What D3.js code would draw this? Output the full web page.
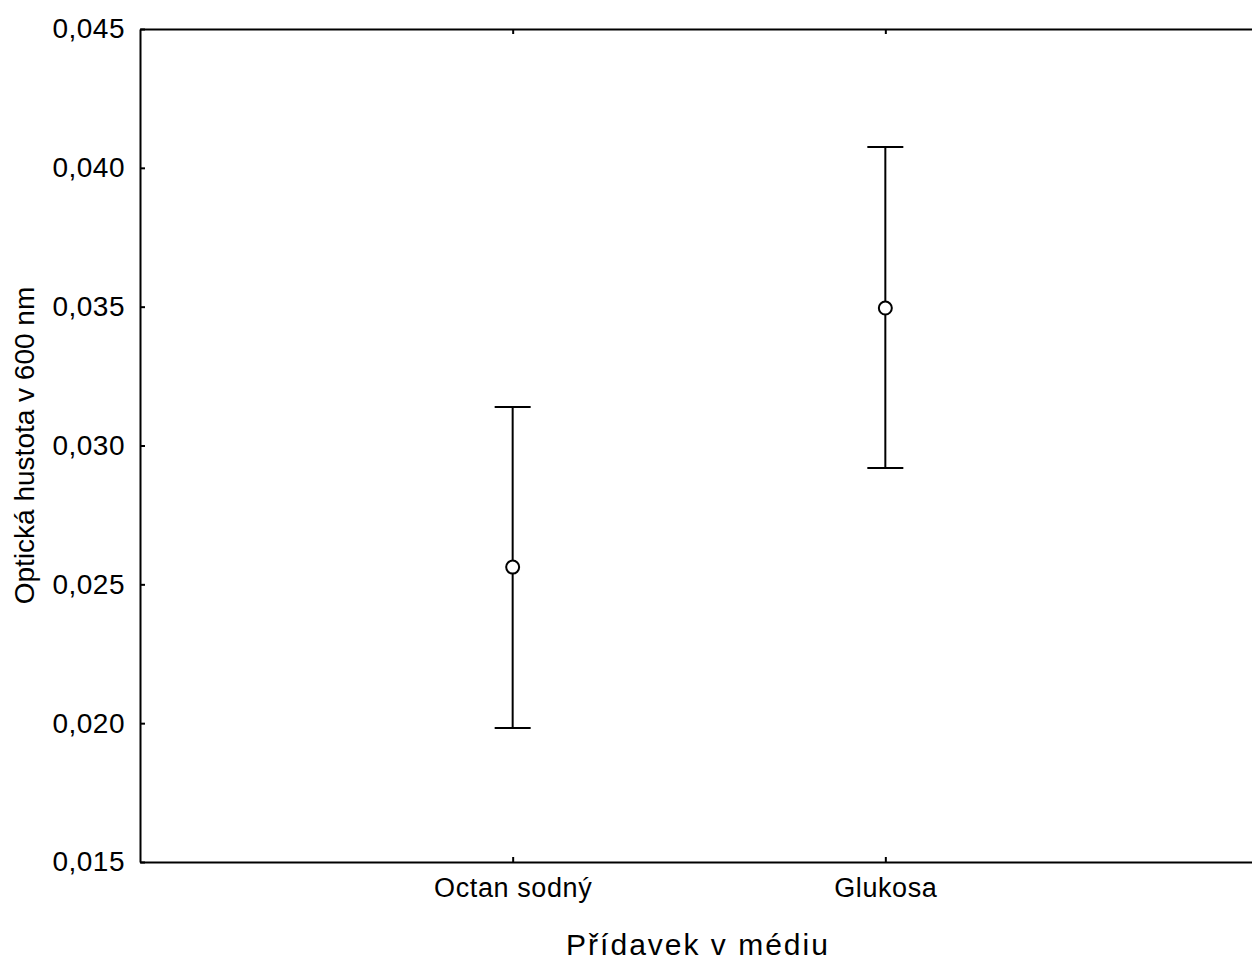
<!DOCTYPE html>
<html>
<head>
<meta charset="utf-8">
<script src="https://cdn.jsdelivr.net/npm/d3@7"></script>
<style>
  html, body { margin: 0; padding: 0; background: #fff; }
  svg { display: block; }
  text { font-family: "Liberation Sans", Arial, sans-serif; fill: #000; }
</style>
</head>
<body>
<svg id="chart" width="1252" height="960"></svg>
<script>
// Group means with confidence interval bounds
const categories = ["Octan sodný", "Glukosa"];
const means = [0.02562, 0.03495];
const upper = [0.03139, 0.04075];
const lower = [0.01983, 0.02919];
const yTicks = [0.015, 0.020, 0.025, 0.030, 0.035, 0.040, 0.045];
const xTitle = "Přídavek v médiu";
const yTitle = "Optická hustota v 600 nm";

const svg = d3.select("#chart");
const plotLeft = 140, plotTop = 29, plotBottom = 862, plotRight = 1258;

const y = d3.scaleLinear().domain([0.015, 0.045]).range([plotBottom, plotTop]);
const x = d3.scaleLinear().domain([0, categories.length + 1]).range([plotLeft, plotRight]);
const fmt = v => d3.format(".3f")(v).replace(".", ",");
const font = "Liberation Sans, Arial, sans-serif";

// Frame: left, top and bottom axes with inward ticks
const gL = svg.append("g").attr("transform", `translate(${plotLeft},0)`)
  .call(d3.axisLeft(y).tickValues(yTicks).tickSizeInner(-5).tickSizeOuter(0).tickPadding(15).tickFormat(fmt));
gL.selectAll("text").style("font-size", "28px").style("font-family", font).style("letter-spacing", "0.5px");

const catTicks = categories.map((d, i) => i + 1);
const gB = svg.append("g").attr("transform", `translate(0,${plotBottom})`)
  .call(d3.axisBottom(x).tickValues(catTicks).tickSizeInner(-5).tickSizeOuter(0).tickPadding(16)
    .tickFormat(i => categories[i - 1]));
gB.selectAll("text").style("font-size", "27px").style("font-family", font).style("letter-spacing", "0.6px");

const gT = svg.append("g").attr("transform", `translate(0,${plotTop})`)
  .call(d3.axisTop(x).tickValues(catTicks).tickSizeInner(-5).tickSizeOuter(0).tickFormat(""));

svg.selectAll(".domain, .tick line").attr("stroke", "#000").attr("stroke-width", 2);
svg.selectAll(".tick text").attr("fill", "#000");

// Error bars
const cap = 18;
const bars = svg.append("g").selectAll("g").data(categories).join("g");
bars.append("line")
  .attr("x1", (d, i) => x(i + 1)).attr("x2", (d, i) => x(i + 1))
  .attr("y1", (d, i) => y(upper[i])).attr("y2", (d, i) => y(lower[i]))
  .attr("stroke", "#000").attr("stroke-width", 2);
bars.append("line")
  .attr("x1", (d, i) => x(i + 1) - cap).attr("x2", (d, i) => x(i + 1) + cap)
  .attr("y1", (d, i) => y(upper[i])).attr("y2", (d, i) => y(upper[i]))
  .attr("stroke", "#000").attr("stroke-width", 2);
bars.append("line")
  .attr("x1", (d, i) => x(i + 1) - cap).attr("x2", (d, i) => x(i + 1) + cap)
  .attr("y1", (d, i) => y(lower[i])).attr("y2", (d, i) => y(lower[i]))
  .attr("stroke", "#000").attr("stroke-width", 2);
bars.append("circle")
  .attr("cx", (d, i) => x(i + 1)).attr("cy", (d, i) => y(means[i]))
  .attr("r", 6.5).attr("fill", "#fff").attr("stroke", "#000").attr("stroke-width", 2);

// Axis titles
svg.append("text").attr("x", 698).attr("y", 955).attr("text-anchor", "middle")
  .style("font-size", "30px").style("font-family", font).style("letter-spacing", "2px").text(xTitle);
svg.append("text").attr("transform", `translate(34,${(plotTop + plotBottom) / 2}) rotate(-90)`)
  .attr("text-anchor", "middle").style("font-size", "28px").style("font-family", font).text(yTitle);
</script>
</body>
</html>
